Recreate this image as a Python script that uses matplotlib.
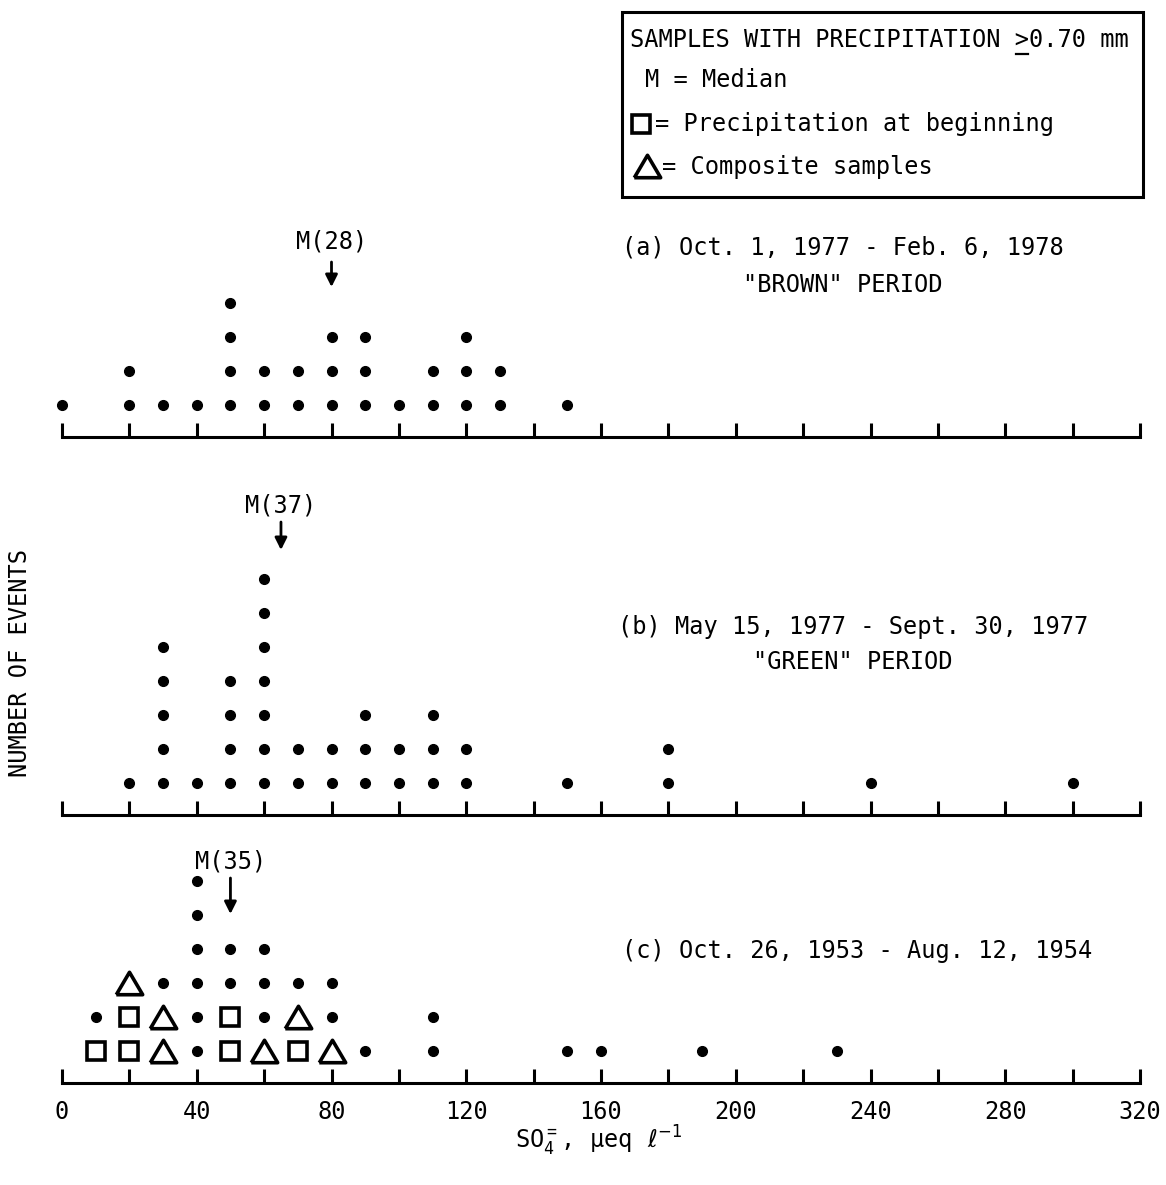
import numpy as np
import matplotlib.pyplot as plt
from matplotlib.patches import Rectangle
from matplotlib.lines import Line2D

# (a) Oct. 1, 1977 - Feb. 6, 1978  ("brown" period)
a_values = [0, 20, 30, 40, 50, 60, 70, 80, 90, 100, 110, 120, 130, 150]
a_counts = [1, 2, 1, 1, 4, 2, 2, 3, 3, 1, 2, 3, 2, 1]
# (b) May 15, 1977 - Sept. 30, 1977  ("green" period)
b_values = [20, 30, 40, 50, 60, 70, 80, 90, 100, 110, 120, 150, 180, 240, 300]
b_counts = [1, 5, 1, 4, 7, 2, 2, 3, 2, 3, 2, 1, 2, 1, 1]
# (c) Oct. 26, 1953 - Aug. 12, 1954, stacked bottom->top
# d = dot, s = precipitation at beginning, t = composite sample
c_values = [10, 20, 30, 40, 50, 60, 70, 80, 90, 110, 150, 160, 190, 230]
c_stacks = ['sd', 'sst', 'ttd', 'dddddd', 'ssdd', 'tddd', 'std', 'tdd',
            'd', 'dd', 'd', 'd', 'd', 'd']
medians = [80, 65, 50]

x_ticks = np.arange(0, 321, 20)
x_labels = np.arange(0, 321, 40)

FONT = ['DejaVu Sans Mono', 'DejaVu Sans']
plt.rcParams['font.family'] = FONT
plt.rcParams['mathtext.fontset'] = 'custom'
plt.rcParams['mathtext.rm'] = 'DejaVu Sans Mono'
plt.rcParams['mathtext.default'] = 'rm'
FS = 17

W, H = 1166, 1185
fig = plt.figure(figsize=(W / 100, H / 100), dpi=100)
X0, X1 = 62, 1140
ROW = 34.0

def fy(px):
    return 1 - px / H

tri = [(-1, -0.85), (1, -0.85), (0, 0.85), (-1, -0.85)]
styles = {
    'd': dict(marker='o', ms=7, color='black'),
    's': dict(marker='s', ms=13, mfc='none', mec='black', mew=2.6),
    't': dict(marker=tri, ms=19, mfc='none', mec='black', mew=2.6),
}

def panel(axis_px, top_px, labels=False):
    ax = fig.add_axes([X0 / W, fy(axis_px), (X1 - X0) / W, (axis_px - top_px) / H])
    ax.set_xlim(0, 320)
    ax.set_ylim(0.06, 0.06 + (axis_px - top_px) / ROW)
    for s in ['top', 'left', 'right']:
        ax.spines[s].set_visible(False)
    ax.spines['bottom'].set_linewidth(2.2)
    ax.set_yticks([])
    ax.set_xticks(x_ticks)
    if labels:
        ax.set_xticklabels([str(v) if v in x_labels else '' for v in x_ticks])
    else:
        ax.set_xticklabels([])
    ax.tick_params(axis='x', direction='in', length=10, width=2.2,
                   labelsize=FS, pad=12)
    ax.patch.set_alpha(0)
    return ax

def median_mark(ax, m, n, text_px, tail_px, tip_px):
    ax.annotate('', xy=(m, H - tip_px), xytext=(m, H - tail_px),
                xycoords=('data', 'figure pixels'), textcoords=('data', 'figure pixels'),
                arrowprops=dict(arrowstyle='-|>', color='black', lw=2,
                                mutation_scale=18, shrinkA=0, shrinkB=0))
    ax.annotate('M(%d)' % n, xy=(m, H - text_px), xycoords=('data', 'figure pixels'),
                ha='center', va='center', fontsize=FS)

# panel (a)
ax_a = panel(437, 205)
for v, c in zip(a_values, a_counts):
    ax_a.plot([v] * c, np.arange(1, c + 1), linestyle='none', clip_on=False, **styles['d'])
median_mark(ax_a, medians[0], sum(a_counts), 241, 262, 287)

# panel (b)
ax_b = panel(815, 480)
for v, c in zip(b_values, b_counts):
    ax_b.plot([v] * c, np.arange(1, c + 1), linestyle='none', clip_on=False, **styles['d'])
median_mark(ax_b, medians[1], sum(b_counts), 505, 522, 550)

# panel (c)
ax_c = panel(1083, 845, labels=True)
for v, st in zip(c_values, c_stacks):
    for k, m in enumerate(st):
        ax_c.plot([v], [k + 1], linestyle='none', clip_on=False, **styles[m])
median_mark(ax_c, medians[2], sum(len(s) for s in c_stacks), 862, 878, 914)

# period titles
fig.text(843 / W, fy(248), '(a) Oct. 1, 1977 - Feb. 6, 1978', ha='center', va='center', fontsize=FS)
fig.text(843 / W, fy(285), '"BROWN" PERIOD', ha='center', va='center', fontsize=FS)
fig.text(853 / W, fy(627), '(b) May 15, 1977 - Sept. 30, 1977', ha='center', va='center', fontsize=FS)
fig.text(853 / W, fy(662), '"GREEN" PERIOD', ha='center', va='center', fontsize=FS)
fig.text(857 / W, fy(951), '(c) Oct. 26, 1953 - Aug. 12, 1954', ha='center', va='center', fontsize=FS)

# axis titles
fig.text(20 / W, fy(663), 'NUMBER OF EVENTS', rotation=90, ha='center', va='center', fontsize=FS)
fig.text(632 / W, fy(1142), r'SO$_4^=$, μeq', ha='right', va='center', fontsize=FS)
fig.text(647 / W, fy(1139), r'$\ell^{-1}$', ha='left', va='center', fontsize=FS,
         math_fontfamily='dejavusans')

# legend box
fig.patches.append(Rectangle((622 / W, fy(197)), (1143 - 622) / W, (197 - 12) / H,
                             transform=fig.transFigure, fill=False, lw=2.2, ec='black'))
head = 'SAMPLES WITH PRECIPITATION >0.70 mm'
t_head = fig.text(630 / W, fy(40), head, ha='left', va='center', fontsize=FS)
fig.text(645 / W, fy(80), 'M = Median', ha='left', va='center', fontsize=FS)
fig.add_artist(Line2D([641 / W], [fy(124)], transform=fig.transFigure, **styles['s']))
fig.text(655 / W, fy(124), '= Precipitation at beginning', ha='left', va='center', fontsize=FS)
fig.add_artist(Line2D([647 / W], [fy(166)], transform=fig.transFigure, **styles['t']))
fig.text(662 / W, fy(167), '= Composite samples', ha='left', va='center', fontsize=FS)

# underline the ">" so it reads as "greater than or equal"
fig.canvas.draw()
bb = t_head.get_window_extent()
cw = bb.width / len(head)
i = head.index('>')
ux0 = (bb.x0 + i * cw + 1) / W
ux1 = (bb.x0 + (i + 1) * cw - 1) / W
fig.add_artist(Line2D([ux0, ux1], [fy(54), fy(54)], transform=fig.transFigure,
                      color='black', lw=1.6))

fig.savefig('out.png', dpi=100, facecolor='white')
